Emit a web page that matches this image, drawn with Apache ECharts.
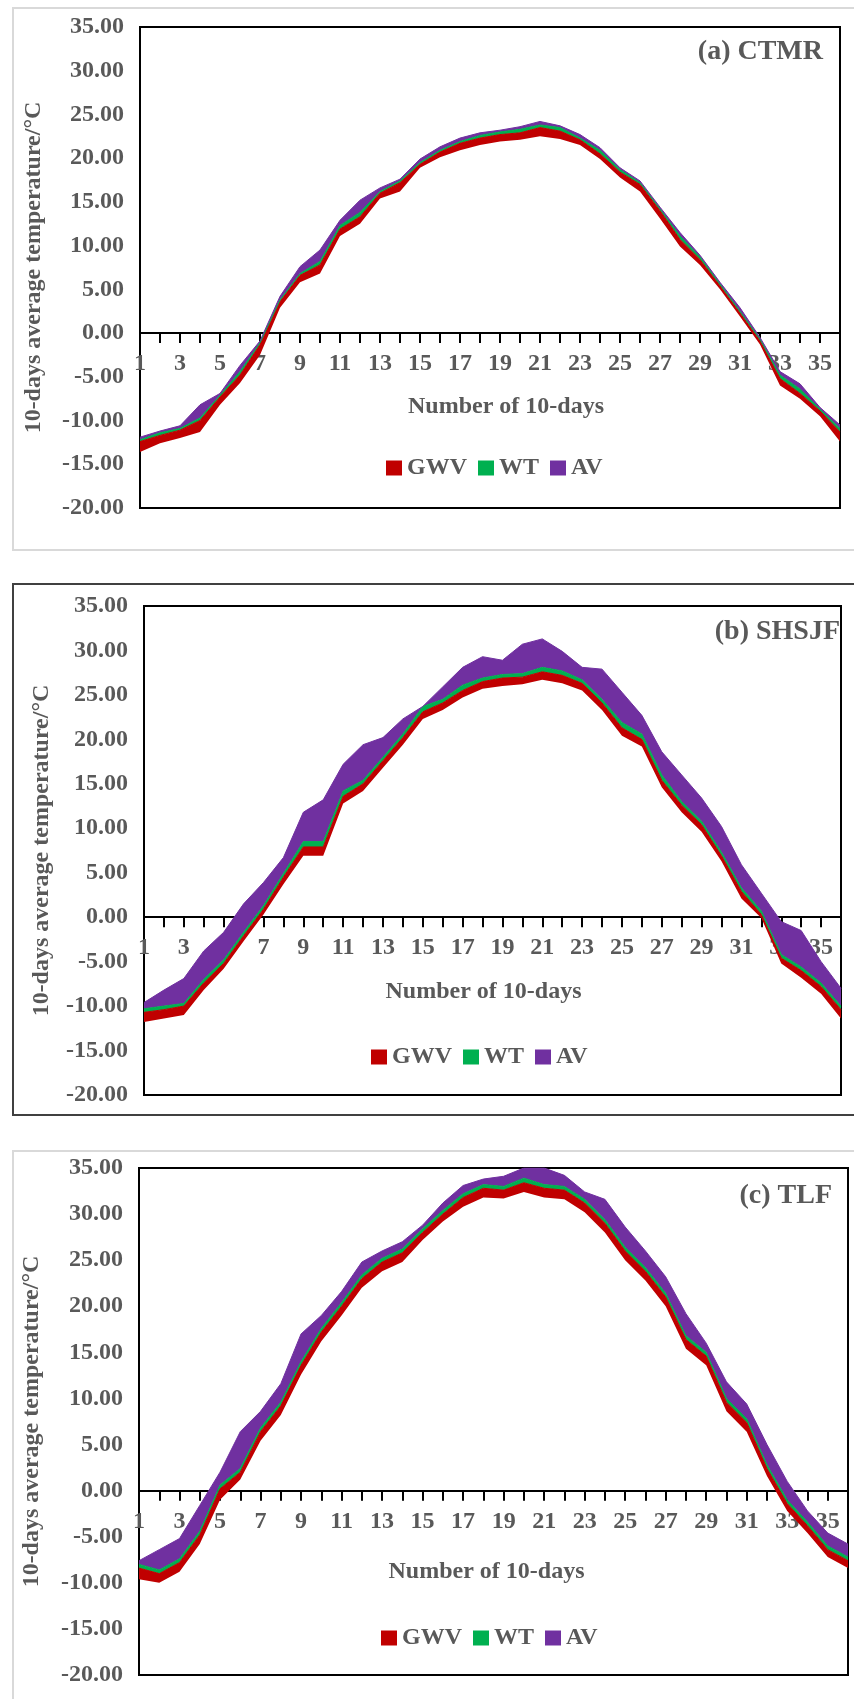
<!DOCTYPE html>
<html>
<head>
<meta charset="utf-8">
<script src="https://cdn.jsdelivr.net/npm/echarts@6/dist/echarts.min.js"></script>
<style>
html, body { margin: 0; padding: 0; background: #fff; }
#main { width: 854px; height: 1699px; }
</style>
</head>
<body>
<div id="main"></div>
<script>
// 横轴：36个旬
var days = ['1','2','3','4','5','6','7','8','9','10','11','12','13','14','15','16','17','18',
            '19','20','21','22','23','24','25','26','27','28','29','30','31','32','33','34','35','36'];

// (a) CTMR 各色带的边界（下边界、GWV、WT、AV 上边界）
var ctmrLow = [-13.6,-12.6,-12.0,-11.3,-8.2,-5.7,-2.5,2.9,5.8,6.8,11.1,12.5,15.4,16.2,18.9,20.1,20.9,21.5,
               21.9,22.1,22.5,22.2,21.5,19.9,17.8,16.2,13.1,9.9,7.8,5.0,1.9,-1.3,-6.0,-7.5,-9.5,-12.4];
var ctmrGwv = [-12.4,-11.7,-11.1,-10.0,-7.3,-4.8,-1.3,3.6,6.6,7.8,11.9,13.3,16.0,17.2,19.3,20.7,21.7,22.3,
               22.7,22.9,23.5,23.1,22.1,20.5,18.4,17.0,14.0,10.7,8.4,5.4,2.3,-0.9,-5.2,-6.9,-8.9,-11.3];
var ctmrWt  = [-12.2,-11.4,-10.9,-9.7,-7.1,-4.4,-1.1,3.8,6.8,8.2,12.3,13.8,16.2,17.4,19.5,20.9,21.9,22.6,
               23.0,23.3,23.8,23.5,22.3,20.9,18.7,17.2,14.2,11.1,8.7,5.6,2.5,-0.7,-4.8,-6.4,-8.7,-10.9];
var ctmrAv  = [-11.9,-11.2,-10.6,-8.2,-6.9,-3.7,-0.9,4.2,7.6,9.5,12.9,15.2,16.6,17.6,19.9,21.3,22.3,22.9,
               23.2,23.6,24.2,23.7,22.7,21.2,18.9,17.4,14.4,11.5,8.9,5.8,2.9,-0.5,-4.4,-5.8,-8.5,-10.5];

// (b) SHSJF
var shsjfLow = [-11.8,-11.4,-11.0,-8.2,-5.8,-2.7,0.3,3.7,6.9,6.9,12.8,14.2,16.8,19.4,22.3,23.3,24.7,25.7,
                26.0,26.2,26.7,26.3,25.5,23.3,20.4,19.2,14.6,11.8,9.6,6.3,2.1,-0.1,-5.2,-6.8,-8.6,-11.4];
var shsjfGwv = [-10.7,-10.4,-10.0,-7.4,-5.2,-2.1,0.9,4.5,7.9,7.9,13.6,15.0,17.6,20.2,23.1,24.1,25.5,26.5,
                26.9,27.0,27.6,27.2,26.3,24.1,21.3,20.0,15.4,12.6,10.4,6.9,2.9,0.3,-4.6,-6.0,-7.8,-10.4];
var shsjfWt  = [-10.3,-10.0,-9.7,-7.0,-4.8,-1.7,1.3,4.9,8.5,8.5,14.2,15.4,18.0,20.6,23.7,24.5,26.1,26.9,
                27.3,27.4,28.1,27.7,26.7,24.5,21.9,20.6,16.0,13.0,10.8,7.3,3.3,0.7,-4.2,-5.6,-7.4,-10.0];
var shsjfAv  = [-9.6,-8.2,-6.9,-3.8,-1.7,1.5,3.9,6.7,11.8,13.2,17.2,19.4,20.2,22.3,23.7,25.9,28.1,29.3,
                28.9,30.7,31.3,29.9,28.1,27.9,25.3,22.7,18.6,16.0,13.4,10.2,5.9,2.7,-0.5,-1.5,-5.0,-8.0];

// (c) TLF
var tlfLow = [-9.6,-10.0,-8.8,-5.8,-1.0,1.2,5.4,8.2,12.6,16.2,19.0,22.0,23.8,24.8,27.2,29.2,30.8,31.8,
              31.7,32.4,31.8,31.6,30.2,28.0,25.0,22.8,20.0,15.4,13.6,8.6,6.4,1.6,-2.2,-4.6,-7.2,-8.4];
var tlfGwv = [-8.4,-9.0,-7.8,-4.8,0.2,2.0,6.4,9.2,13.6,17.2,20.0,23.0,24.8,25.8,28.0,30.0,31.8,32.8,
              32.6,33.4,32.8,32.6,31.2,29.0,26.0,23.8,21.0,16.4,14.6,9.6,7.4,2.4,-1.4,-3.8,-6.4,-7.6];
var tlfWt  = [-8.0,-8.6,-7.4,-4.4,0.6,2.4,6.8,9.6,14.0,17.6,20.4,23.4,25.2,26.2,28.4,30.4,32.2,33.2,
              33.0,33.9,33.2,33.0,31.6,29.4,26.4,24.2,21.4,16.8,15.0,10.0,7.8,2.8,-1.0,-3.4,-6.0,-7.2];
var tlfAv  = [-7.6,-6.4,-5.2,-1.6,2.0,6.4,8.6,11.6,17.0,19.0,21.6,24.8,26.0,27.0,28.8,31.2,33.1,33.8,
              34.1,35.0,35.0,34.2,32.4,31.6,28.6,26.0,23.2,19.2,16.0,11.8,9.4,5.0,1.0,-2.2,-4.6,-5.8];

var seriesNames = ['GWV', 'WT', 'AV'];
var seriesColors = ['#C00000', '#00B050', '#7030A0'];

var yMin = -20, yMax = 35;

var FONT = "'Liberation Serif', 'Times New Roman', serif";
var GREY = '#595959';

var panels = [
    { title: '(a) CTMR', lines: [ctmrLow, ctmrGwv, ctmrWt, ctmrAv],
      grid: { left: 140, top: 27, width: 700, height: 481 },
      titlePos: { right: 31, top: 38 }, legendPos: { left: 386, top: 456 },
      nameGap: 62, namePad: [0, 0, 0, 32], yNameGap: 94,
      frame: { x: 13, y: 8, width: 870, height: 542 }, frameColor: '#d9d9d9' },
    { title: '(b) SHSJF', lines: [shsjfLow, shsjfGwv, shsjfWt, shsjfAv],
      grid: { left: 144, top: 606, width: 697, height: 489 },
      titlePos: { right: 14, top: 618 }, legendPos: { left: 371, top: 1045 },
      nameGap: 63, namePad: [0, 18, 0, 0], yNameGap: 90,
      frame: { x: 13, y: 584, width: 870, height: 531 }, frameColor: '#404040' },
    { title: '(c) TLF', lines: [tlfLow, tlfGwv, tlfWt, tlfAv],
      grid: { left: 139, top: 1168, width: 709, height: 507 },
      titlePos: { right: 22, top: 1182 }, legendPos: { left: 381, top: 1626 },
      nameGap: 69, namePad: [0, 14, 0, 0], yNameGap: 95,
      frame: { x: 13, y: 1151, width: 870, height: 600 }, frameColor: '#d9d9d9' }
];

var labelStyle = { fontFamily: FONT, fontWeight: 'bold', fontSize: 24, color: GREY };

var grids = [], xAxes = [], yAxes = [], titles = [], legends = [], series = [], frames = [];

panels.forEach(function (p, k) {
    grids.push(Object.assign({ show: true, borderColor: '#000', borderWidth: 2 }, p.grid));

    // 横轴画在 0 值处：从底边向上偏移
    var zeroOffset = -p.grid.height * (0 - yMin) / (yMax - yMin);

    xAxes.push({
        gridIndex: k,
        type: 'category',
        data: days,
        boundaryGap: false,
        position: 'bottom',
        offset: zeroOffset,
        name: 'Number of 10-days',
        nameLocation: 'middle',
        nameGap: p.nameGap,
        nameTextStyle: Object.assign({ padding: p.namePad }, labelStyle),
        axisLine: { onZero: false, lineStyle: { color: '#000', width: 2 } },
        axisTick: { show: true, interval: 0, length: 10, lineStyle: { color: '#000', width: 2 } },
        axisLabel: Object.assign({ interval: 1, margin: 19 }, labelStyle),
        splitLine: { show: false }
    });

    yAxes.push({
        gridIndex: k,
        type: 'value',
        min: yMin,
        max: yMax,
        interval: 5,
        name: '10-days average temperature/°C',
        nameLocation: 'middle',
        nameGap: p.yNameGap,
        nameTextStyle: labelStyle,
        axisLine: { show: false },
        axisTick: { show: false },
        splitLine: { show: false },
        axisLabel: Object.assign({
            margin: 16,
            formatter: function (v) { return v.toFixed(2); }
        }, labelStyle)
    });

    titles.push({
        text: p.title,
        right: p.titlePos.right,
        top: p.titlePos.top,
        padding: 0,
        textStyle: { fontFamily: FONT, fontWeight: 'bold', fontSize: 28, color: GREY }
    });

    legends.push({
        data: seriesNames,
        icon: 'rect',
        itemWidth: 16,
        itemHeight: 15,
        itemGap: 11,
        left: p.legendPos.left,
        top: p.legendPos.top,
        padding: 0,
        selectedMode: false,
        textStyle: labelStyle
    });

    // 透明底座 + 三条色带，堆叠得到各带上下边界
    series.push({
        name: 'base' + k,
        type: 'line',
        stack: 'band' + k,
        stackStrategy: 'all',
        xAxisIndex: k,
        yAxisIndex: k,
        data: p.lines[0],
        symbol: 'none',
        silent: true,
        lineStyle: { opacity: 0 }
    });
    for (var s = 0; s < 3; s++) {
        var top = p.lines[s + 1], bottom = p.lines[s];
        series.push({
            name: seriesNames[s],
            type: 'line',
            stack: 'band' + k,
            stackStrategy: 'all',
            xAxisIndex: k,
            yAxisIndex: k,
            color: seriesColors[s],
            data: top.map(function (v, i) { return +(v - bottom[i]).toFixed(2); }),
            symbol: 'none',
            silent: true,
            lineStyle: { width: 1, color: seriesColors[s] },
            areaStyle: { color: seriesColors[s], opacity: 1 }
        });
    }

    frames.push({
        type: 'rect',
        shape: p.frame,
        style: { fill: 'none', stroke: p.frameColor, lineWidth: 2 },
        silent: true
    });
});

var myChart = echarts.init(document.getElementById('main'));
var option = {
    animation: false,
    backgroundColor: '#fff',
    title: titles,
    legend: legends,
    grid: grids,
    xAxis: xAxes,
    yAxis: yAxes,
    graphic: frames,
    series: series
};
myChart.setOption(option);
</script>
</body>
</html>
